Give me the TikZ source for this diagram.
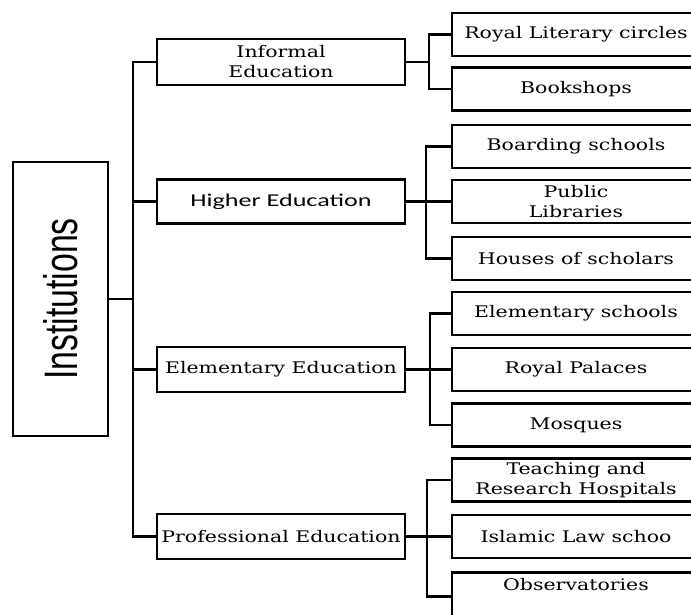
\documentclass[tikz,border=0pt]{standalone}
\usepackage{fontspec}
\newfontfamily\rootfont[FakeStretch=0.72]{Liberation Sans}
\newfontfamily\boxfont[FakeStretch=1.28]{DejaVu Serif}
\newfontfamily\altfont[FakeStretch=1.45]{Carlito}

\begin{document}
\begin{tikzpicture}[x=1pt, y=-1pt, line width=2.6pt,
  every node/.style={draw, line width=2.6pt, inner sep=0pt, align=center},
  root/.style={minimum width=95pt, minimum height=274pt,
    font=\rootfont\fontsize{47}{50}\selectfont},
  lvlone/.style={minimum width=248pt, minimum height=45pt,
    font=\boxfont\fontsize{16}{20}\selectfont},
  lvltwo/.style={minimum width=248pt, minimum height=43pt,
    font=\boxfont\fontsize{16}{20}\selectfont}]
  \useasboundingbox (0,0) rectangle (691,614);
  % root
  \node[root] (root) at (60.5,299) {\rotatebox{90}{Institutions}};
  % first level
  \node[lvlone, minimum height=46pt] (informal) at (281,62) {Informal\\Education};
  \node[lvlone, minimum height=44pt, font=\altfont\fontsize{18}{20}\selectfont]
    (higher) at (281,201.5) {Higher Education};
  \node[lvlone] (elem) at (281,369.5) {Elementary Education};
  \node[lvlone] (prof) at (281,536.5) {Professional Education};
  % second level
  \node[lvltwo] (royal) at (576,34.5) {Royal Literary circles};
  \node[lvltwo] (bookshops) at (576,89) {Bookshops};
  \node[lvltwo] (boarding) at (576,146.5) {Boarding schools};
  \node[lvltwo] (libraries) at (576,201.5) {Public\\Libraries};
  \node[lvltwo] (houses) at (576,258.5) {Houses of scholars};
  \node[lvltwo] (elemschools) at (576,313.5) {Elementary schools};
  \node[lvltwo] (palaces) at (576,369.5) {Royal Palaces};
  \node[lvltwo] (mosques) at (576,425) {Mosques};
  \node[lvltwo] (teaching) at (576,480) {Teaching and\\Research Hospitals};
  \node[lvltwo] (lawschool) at (576,536.5) {Islamic Law schoo};
  \node[lvltwo, anchor=north, minimum height=48pt, text depth=24pt]
    (observatories) at (576,571) {Observatories};
  % trunk
  \coordinate (trunk) at (133,299);
  \draw (root.east) -- (trunk);
  \draw (informal.west) -| (trunk);
  \draw (prof.west) -| (trunk);
  \draw (higher.west) -- (higher.west -| trunk);
  \draw (elem.west) -- (elem.west -| trunk);
  % forks
  \coordinate (fork1) at (429,62);
  \draw (informal.east) -- (fork1);
  \draw (royal.west) -| (fork1);
  \draw (bookshops.west) -| (fork1);
  \coordinate (fork2) at (426,201.5);
  \draw (higher.east) -- (libraries.west);
  \draw (boarding.west) -| (fork2);
  \draw (houses.west) -| (fork2);
  \coordinate (fork3) at (430,369.5);
  \draw (elem.east) -- (palaces.west);
  \draw (elemschools.west) -| (fork3);
  \draw (mosques.west) -| (fork3);
  \coordinate (fork4) at (427,536.5);
  \draw (prof.east) -- (lawschool.west);
  \draw (teaching.west) -| (fork4);
  \draw (observatories.west) -| (fork4);
\end{tikzpicture}
\end{document}
